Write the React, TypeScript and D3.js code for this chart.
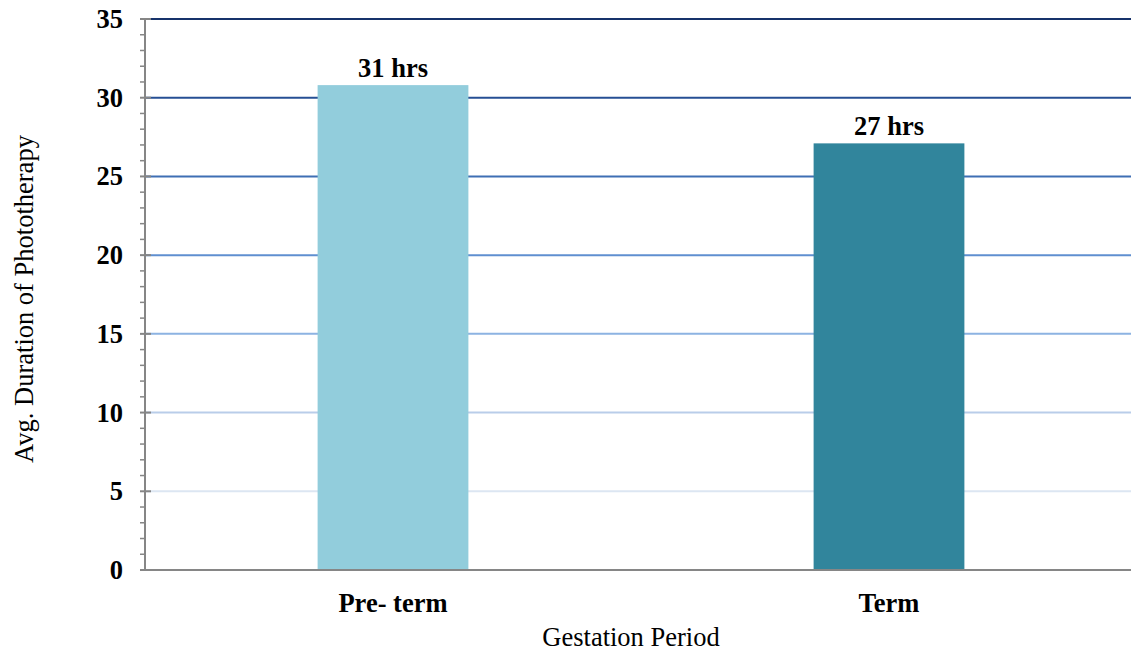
import React from "react";
import * as d3 from "d3";

const categories = ["Pre- term", "Term"];
const values = [30.8, 27.1];
const valueLabels = ["31 hrs", "27 hrs"];
const barColors = ["#92CDDC", "#31859C"];
const yTicks = [0, 5, 10, 15, 20, 25, 30, 35];
const gridColors = ["", "#dce6f2", "#b9cde9", "#8db3e2", "#5f8fd0", "#3f6fb4", "#264f94", "#17336b"];

export default function App() {
  const W = 1131, H = 653;
  const left = 145, right = 1137, top = 19, bottom = 570;
  const y = d3.scaleLinear().domain([0, 35]).range([bottom, top]);
  const x = d3.scaleBand<string>().domain(categories).range([left, right]).paddingInner(0.696).paddingOuter(0.348);
  const minor = d3.range(0, 36, 1).filter((v) => v % 5 !== 0);
  const font = "'Liberation Serif', 'Times New Roman', serif";
  const fs = 26.5;
  return (
    <svg width={W} height={H} style={{ position: "absolute", left: 0, top: 0 }} fontFamily={font}>
      <rect width={W} height={H} fill="#fff" />
      {yTicks.filter((t) => t > 0).map((t, i) => (
        <line key={"g" + t} x1={left} x2={W} y1={y(t)} y2={y(t)} stroke={gridColors[i + 1]} strokeWidth={2} />
      ))}
      {categories.map((c, i) => (
        <g key={c}>
          <rect x={x(c)} y={y(values[i])} width={x.bandwidth()} height={bottom - y(values[i])} fill={barColors[i]} />
          <text x={x(c)! + x.bandwidth() / 2} y={y(values[i]) - 8} textAnchor="middle" fontWeight="bold" fontSize={fs}>
            {valueLabels[i]}
          </text>
          <text x={x(c)! + x.bandwidth() / 2} y={612} textAnchor="middle" fontWeight="bold" fontSize={fs}>
            {c}
          </text>
        </g>
      ))}
      <line x1={left} x2={left} y1={top} y2={bottom} stroke="#868686" strokeWidth={2} />
      <line x1={left} x2={W} y1={bottom} y2={bottom} stroke="#868686" strokeWidth={2} />
      {minor.map((t) => (
        <line key={"m" + t} x1={left - 5} x2={left} y1={y(t)} y2={y(t)} stroke="#868686" strokeWidth={1.5} />
      ))}
      {yTicks.map((t) => (
        <g key={"t" + t}>
          <line x1={left - 5} x2={left + 6} y1={y(t)} y2={y(t)} stroke="#868686" strokeWidth={2} />
          <text x={123} y={y(t) + 9} textAnchor="end" fontWeight="bold" fontSize={fs}>
            {t}
          </text>
        </g>
      ))}
      <text x={631} y={646} textAnchor="middle" fontSize={fs}>Gestation Period</text>
      <text transform={`translate(33,${299}) rotate(-90)`} textAnchor="middle" fontSize={fs}>
        Avg. Duration of Phototherapy
      </text>
    </svg>
  );
}
